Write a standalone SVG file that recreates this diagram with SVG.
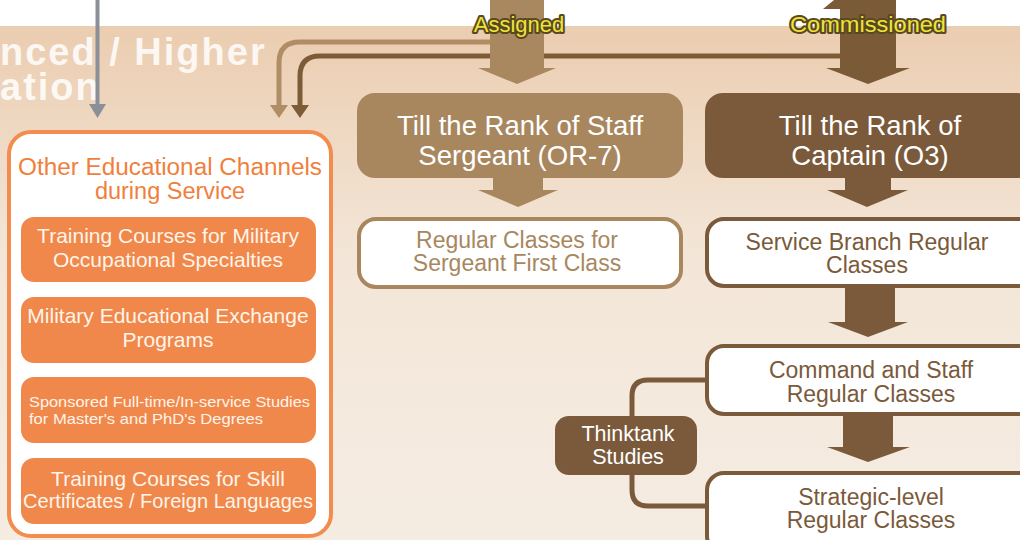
<svg xmlns="http://www.w3.org/2000/svg" width="1020" height="540" viewBox="0 0 1020 540">
<defs>
<linearGradient id="bg" x1="0" y1="0" x2="0" y2="1">
<stop offset="0" stop-color="#ebcdb0"/>
<stop offset="0.45" stop-color="#f3e6d8"/>
<stop offset="1" stop-color="#f5ece2"/>
</linearGradient>
<style>
text{font-family:"Liberation Sans",Arial,sans-serif;text-anchor:middle}
.wt{fill:#ffffff}
.ot{fill:#fff4ea;font-size:21px}
.lt{fill:#a8875f;font-size:23px}
.dt{fill:#7a5a3a;font-size:23px}
.big{font-size:27.5px;fill:#ffffff}
.lab{font-size:22px;fill:#ece43a;stroke:#5a4820;stroke-width:4;stroke-linejoin:round;paint-order:stroke}
.ob{fill:#f0884b}
.hd{text-anchor:start;font-weight:bold;font-size:38px;letter-spacing:2px}
</style>
</defs>
<rect x="0" y="0" width="1020" height="540" fill="#ffffff"/>
<rect x="0" y="26" width="1020" height="514" fill="url(#bg)"/>
<g id="heading">
<text x="0" y="65" class="hd" fill="#ffffff" fill-opacity="0.85">nced / Higher</text>
<text x="0" y="100" class="hd" fill="#ffffff" fill-opacity="0.85">ation</text>
</g>
<g id="connectors">
<line x1="97.5" y1="0" x2="97.5" y2="106" stroke="#8a8f98" stroke-width="4"/>
<polygon points="89,104 106,104 97.5,118" fill="#8a8f98"/>
<path d="M490,42 H300 Q279,42 279,63 V108" fill="none" stroke="#b08d64" stroke-width="5"/>
<polygon points="270,105 288,105 279,118" fill="#b08d64"/>
<path d="M845,56 H320 Q300,56 300,76 V108" fill="none" stroke="#7d5b36" stroke-width="5"/>
<polygon points="291,105 309,105 300,118" fill="#7d5b36"/>
<polygon points="490,0 544,0 544,68 556,68 517,84 478,68 490,68" fill="#a9885f"/>
<polygon points="823,9 834,0 840,0 840,9" fill="#7b5a38"/>
<polygon points="840,0 896,0 896,68 910,68 868,84 826,68 840,68" fill="#7b5a38"/>
<polygon points="493,176 543,176 543,190 558,190 518,207 478,190 493,190" fill="#a8875f"/>
<polygon points="845,176 891,176 891,190 908,190 867,207 827,190 845,190" fill="#7a5a3a"/>
<polygon points="845,287 895,287 895,322 908,322 868,337 828,322 845,322" fill="#7a5a3a"/>
<polygon points="843,413 893,413 893,447 910,447 868,462 827,447 843,447" fill="#7a5a3a"/>
<path d="M708,380 H648 Q632,380 632,396 V416" fill="none" stroke="#7a5a3a" stroke-width="5"/>
<path d="M632,474 V490 Q632,506 648,506 H708" fill="none" stroke="#7a5a3a" stroke-width="5"/>
<text x="519" y="32" class="lab">Assigned</text>
<text x="868" y="32" class="lab" textLength="156" lengthAdjust="spacingAndGlyphs">Commissioned</text>
</g>
<g id="other-channels">
<rect x="9" y="132" width="322" height="404" rx="22" fill="#ffffff" stroke="#f28c4f" stroke-width="4"/>
<text x="170" y="175" style="font-size:23.5px" fill="#f07f3c" textLength="304" lengthAdjust="spacingAndGlyphs">Other Educational Channels</text>
<text x="170" y="199" style="font-size:23.5px" fill="#f07f3c">during Service</text>
</g>
<g id="ch-military-specialties">
<rect x="21" y="217" width="295" height="65" rx="13" class="ob"/>
<text x="168" y="243" class="ot">Training Courses for Military</text>
<text x="168" y="267" class="ot">Occupational Specialties</text>
</g>
<g id="ch-exchange">
<rect x="21" y="297" width="295" height="66" rx="13" class="ob"/>
<text x="168" y="323" class="ot">Military Educational Exchange</text>
<text x="168" y="347" class="ot">Programs</text>
</g>
<g id="ch-degrees">
<rect x="21" y="377" width="295" height="66" rx="13" class="ob"/>
<text x="29" y="407" style="text-anchor:start;font-size:15px;fill:#fff4ea" textLength="281" lengthAdjust="spacingAndGlyphs">Sponsored Full-time/In-service Studies</text>
<text x="29" y="424" style="text-anchor:start;font-size:15px;fill:#fff4ea" textLength="234" lengthAdjust="spacingAndGlyphs">for Master's and PhD's Degrees</text>
</g>
<g id="ch-skills">
<rect x="21" y="458" width="295" height="66" rx="13" class="ob"/>
<text x="168" y="486" class="ot">Training Courses for Skill</text>
<text x="168" y="508" class="ot" textLength="290" lengthAdjust="spacingAndGlyphs">Certificates / Foreign Languages</text>
</g>
<g id="staff-sergeant">
<rect x="357" y="93" width="326" height="85" rx="18" fill="#a8875f"/>
<text x="520" y="135" class="big">Till the Rank of Staff</text>
<text x="520" y="165" class="big">Sergeant (OR-7)</text>
</g>
<g id="sergeant-first-class">
<rect x="359" y="219" width="322" height="68" rx="17" fill="#ffffff" stroke="#a8875f" stroke-width="4"/>
<text x="517" y="248" class="lt">Regular Classes for</text>
<text x="517" y="271" class="lt">Sergeant First Class</text>
</g>
<g id="captain">
<rect x="705" y="93" width="330" height="85" rx="18" fill="#7a5a3a"/>
<text x="870" y="135" class="big">Till the Rank of</text>
<text x="870" y="165" class="big">Captain (O3)</text>
</g>
<g id="service-branch">
<rect x="707" y="219" width="330" height="67" rx="17" fill="#ffffff" stroke="#7a5a3a" stroke-width="4"/>
<text x="867" y="250" class="dt">Service Branch Regular</text>
<text x="867" y="273" class="dt">Classes</text>
</g>
<g id="command-staff">
<rect x="707" y="346" width="330" height="68" rx="17" fill="#ffffff" stroke="#7a5a3a" stroke-width="4"/>
<text x="871" y="378" class="dt">Command and Staff</text>
<text x="871" y="402" class="dt">Regular Classes</text>
</g>
<g id="strategic">
<rect x="707" y="473" width="330" height="80" rx="17" fill="#ffffff" stroke="#7a5a3a" stroke-width="4"/>
<text x="871" y="505" class="dt">Strategic-level</text>
<text x="871" y="528" class="dt">Regular Classes</text>
</g>
<g id="thinktank">
<rect x="555" y="416" width="142" height="59" rx="14" fill="#7a5a3a"/>
<text x="628" y="441" style="font-size:21.5px" class="wt">Thinktank</text>
<text x="628" y="464" style="font-size:21.5px" class="wt">Studies</text>
</g>
</svg>
